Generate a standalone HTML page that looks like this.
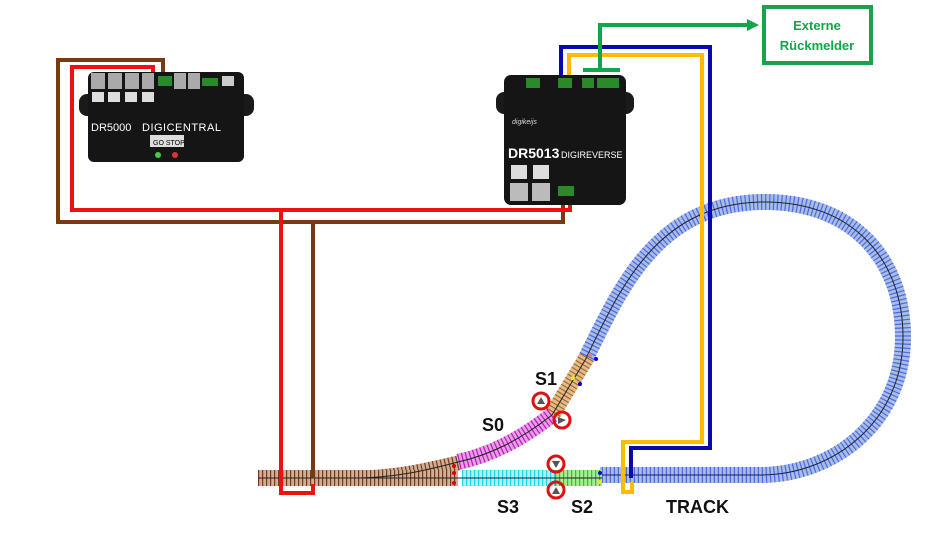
<!DOCTYPE html>
<html><head><meta charset="utf-8"><style>
body{margin:0;background:#fff;width:932px;height:545px;overflow:hidden}
svg{display:block}
text{font-family:"Liberation Sans",sans-serif}
</style></head><body>
<svg width="932" height="545" viewBox="0 0 932 545" xmlns="http://www.w3.org/2000/svg">
<!-- tracks -->
<g fill="none">
 <path d="M585,360 C620,290 655,205 760,202 C855,200 903,262 903,337 C903,420 835,475 760,475 L600,475" stroke="#a9bce6" stroke-width="16"/>
 <path d="M585,360 C620,290 655,205 760,202 C855,200 903,262 903,337 C903,420 835,475 760,475 L600,475" stroke="#4a6ae0" stroke-width="16" stroke-dasharray="1.2 2.8"/>
 <path d="M585,360 C620,290 655,205 760,202 C855,200 903,262 903,337 C903,420 835,475 760,475 L600,475" stroke="#223" stroke-width="1"/>
 <path d="M587,357 L552,415" stroke="#e4bc8a" stroke-width="16"/>
 <path d="M587,357 L552,415" stroke="#a06a30" stroke-width="16" stroke-dasharray="1.2 2.8"/>
 <path d="M552,415 C520,440 490,455 458,462" stroke="#e99ce9" stroke-width="16"/>
 <path d="M552,415 C520,440 490,455 458,462" stroke="#b020b0" stroke-width="16" stroke-dasharray="1.2 2.8"/>
 <path d="M458,463 C420,472 395,477 360,478" stroke="#cfae96" stroke-width="15"/>
 <path d="M458,463 C420,472 395,477 360,478" stroke="#7a3a1a" stroke-width="15" stroke-dasharray="1.2 2.8"/>
 <path d="M258,478 L458,478" stroke="#cfae96" stroke-width="16"/>
 <path d="M258,478 L458,478" stroke="#7a3a1a" stroke-width="16" stroke-dasharray="1.2 2.8"/>
 <path d="M462,478 L555,478" stroke="#b2ecee" stroke-width="16"/>
 <path d="M462,478 L555,478" stroke="#20d8e0" stroke-width="16" stroke-dasharray="1.2 2.8"/>
 <path d="M555,478 L602,478" stroke="#a4ec96" stroke-width="16"/>
 <path d="M555,478 L602,478" stroke="#30c030" stroke-width="16" stroke-dasharray="1.2 2.8"/>
 <path d="M258,478 L602,478 M552,415 C520,440 490,455 458,462 C420,472 395,477 360,478 M587,357 L552,415" stroke="#222" stroke-width="1"/>
</g>
<g>
 <circle cx="590" cy="355" r="2" fill="#e08060"/><circle cx="596" cy="359" r="2" fill="#0000dd"/>
 <circle cx="573" cy="378" r="2" fill="#ee0"/><circle cx="580" cy="384" r="2" fill="#0000dd"/>
 <circle cx="600" cy="473" r="2" fill="#0000dd"/><circle cx="600" cy="482" r="2" fill="#ee0"/>
 <circle cx="454" cy="466" r="2" fill="#d00"/><circle cx="454" cy="473" r="2" fill="#d00"/><circle cx="454" cy="483" r="2" fill="#d00"/>
</g>
<!-- wires -->
<g fill="none" stroke-width="4" stroke-linejoin="miter">
 <path d="M163,76 V60 H58 V222 H563 V190" stroke="#7a3a10"/>
 <path d="M313,222 V478" stroke="#7a3a10"/>
 <path d="M153,76 V67 H72 V210 H570 V190" stroke="#ee1111"/>
 <path d="M281,210 V493 H313 V484" stroke="#ee1111"/>
 <path d="M561,78 V47 H710 V448 H631 V478" stroke="#0a0aa8"/>
 <path d="M569,78 V55 H702 V442 H623 V492 H632 V482" stroke="#ffbb00"/>
 <path d="M583,70 H620 M600,70 V25 H750" stroke="#12a54a"/>
</g>
<polygon points="747,19 759,25 747,31" fill="#12a54a"/>
<rect x="764" y="7" width="107" height="56" fill="#fff" stroke="#12a54a" stroke-width="4"/>
<text x="817" y="30" font-size="13" font-weight="bold" fill="#12a54a" text-anchor="middle">Externe</text>
<text x="817" y="50" font-size="13" font-weight="bold" fill="#12a54a" text-anchor="middle">Rückmelder</text>
<!-- DR5000 -->
<g>
 <rect x="79" y="94" width="20" height="22" rx="8" fill="#1a1a1a"/>
 <rect x="234" y="94" width="20" height="22" rx="8" fill="#1a1a1a"/>
 <rect x="88" y="72" width="156" height="90" rx="6" fill="#151515"/>
 <rect x="91" y="73" width="14" height="16" fill="#aaa"/><rect x="108" y="73" width="14" height="16" fill="#aaa"/>
 <rect x="125" y="73" width="14" height="16" fill="#aaa"/><rect x="142" y="73" width="12" height="16" fill="#aaa"/>
 <rect x="158" y="76" width="14" height="10" fill="#2a8a2a"/>
 <rect x="174" y="73" width="12" height="16" fill="#aaa"/><rect x="188" y="73" width="12" height="16" fill="#aaa"/>
 <rect x="202" y="78" width="16" height="8" fill="#2a8a2a"/><rect x="222" y="76" width="12" height="10" fill="#ccc"/>
 <rect x="92" y="92" width="12" height="10" fill="#ddd"/><rect x="108" y="92" width="12" height="10" fill="#ddd"/>
 <rect x="125" y="92" width="12" height="10" fill="#ddd"/><rect x="142" y="92" width="12" height="10" fill="#ddd"/>
 <text x="91" y="131" font-size="11" fill="#fff">DR5000</text>
 <text x="142" y="131" font-size="11" fill="#fff" letter-spacing="0.5">DIGICENTRAL</text>
 <rect x="150" y="135" width="34" height="12" fill="#ddd"/>
 <text x="153" y="145" font-size="7" fill="#000">GO  STOP</text>
 <circle cx="158" cy="155" r="3" fill="#4c4"/><circle cx="175" cy="155" r="3" fill="#d33"/>
</g>
<!-- DR5013 -->
<g>
 <rect x="496" y="92" width="16" height="22" rx="8" fill="#1a1a1a"/>
 <rect x="618" y="92" width="16" height="22" rx="8" fill="#1a1a1a"/>
 <rect x="504" y="75" width="122" height="130" rx="7" fill="#151515"/>
 <rect x="526" y="78" width="14" height="10" fill="#2a8a2a"/><rect x="558" y="78" width="14" height="10" fill="#2a8a2a"/>
 <rect x="582" y="78" width="12" height="10" fill="#2a8a2a"/><rect x="597" y="78" width="22" height="10" fill="#2a8a2a"/>
 <text x="512" y="124" font-size="7" fill="#ddd" font-style="italic">digikeijs</text>
 <text x="508" y="158" font-size="14" font-weight="bold" fill="#fff">DR5013</text>
 <text x="561" y="158" font-size="9" fill="#fff">DIGIREVERSE</text>
 <rect x="511" y="165" width="16" height="14" fill="#ddd"/><rect x="533" y="165" width="16" height="14" fill="#ddd"/>
 <rect x="510" y="183" width="18" height="18" fill="#bbb"/><rect x="532" y="183" width="18" height="18" fill="#bbb"/>
 <rect x="558" y="186" width="16" height="10" fill="#2a8a2a"/>
</g>
<!-- markers -->
<g fill="none" stroke="#e01010" stroke-width="3">
 <circle cx="541" cy="401" r="8"/><circle cx="562" cy="420" r="8"/>
 <circle cx="556" cy="464" r="8"/><circle cx="556" cy="490" r="8"/>
</g>
<g fill="#555">
 <polygon points="537,404 541,397 545,404"/><polygon points="558,417 566,420 558,424"/>
 <polygon points="552,461 560,461 556,468"/><polygon points="552,494 560,494 556,487"/>
</g>
<g font-size="18" font-weight="bold" fill="#111">
 <text x="535" y="385">S1</text><text x="482" y="431">S0</text>
 <text x="497" y="513">S3</text><text x="571" y="513">S2</text>
 <text x="666" y="513">TRACK</text>
</g>
</svg>
</body></html>
